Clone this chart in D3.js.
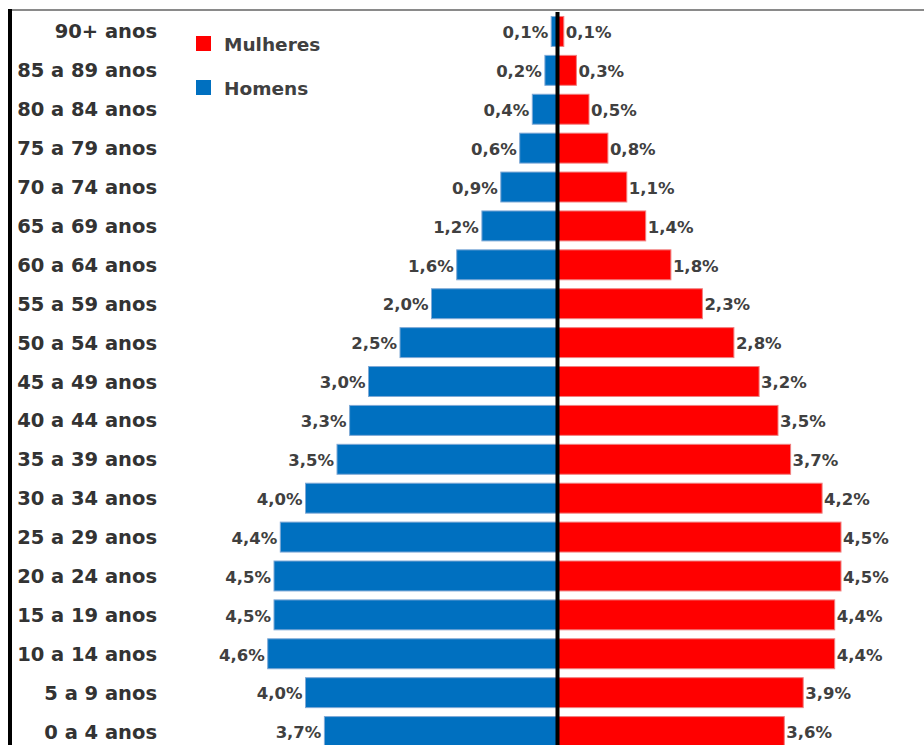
<!DOCTYPE html>
<html>
<head>
<meta charset="utf-8">
<script src="https://cdn.jsdelivr.net/npm/d3@7"></script>
<style>
  body { margin: 0; background: #fff; }
  svg { display: block; font-family: "DejaVu Sans", sans-serif; }
</style>
</head>
<body>
<svg class="pyramid" width="924" height="745"></svg>
<script>
// Faixas etárias, de cima para baixo
const categories = [
  '90+ anos', '85 a 89 anos', '80 a 84 anos', '75 a 79 anos', '70 a 74 anos',
  '65 a 69 anos', '60 a 64 anos', '55 a 59 anos', '50 a 54 anos', '45 a 49 anos',
  '40 a 44 anos', '35 a 39 anos', '30 a 34 anos', '25 a 29 anos', '20 a 24 anos',
  '15 a 19 anos', '10 a 14 anos', '5 a 9 anos', '0 a 4 anos'
];
const homens = [0.1, 0.2, 0.4, 0.6, 0.9, 1.2, 1.6, 2.0, 2.5, 3.0, 3.3, 3.5, 4.0, 4.4, 4.5, 4.5, 4.6, 4.0, 3.7];
const mulheres = [0.1, 0.3, 0.5, 0.8, 1.1, 1.4, 1.8, 2.3, 2.8, 3.2, 3.5, 3.7, 4.2, 4.5, 4.5, 4.4, 4.4, 3.9, 3.6];
const legendItems = ['Mulheres', 'Homens'];

const svg = d3.select('.pyramid');
const width = 924;
const height = 745;

const zeroX = 557.5;
const x = d3.scaleLinear().domain([-5, 5]).range([zeroX - 315, zeroX + 315]);
const y = d3.scaleBand()
  .domain(categories)
  .range([12, 751])
  .paddingInner(0.23)
  .paddingOuter(0.115);

const colors = { Mulheres: '#ff0000', Homens: '#0070c0' };
const fmt = v => d3.format('.1f')(v).replace('.', ',') + '%';

const rows = categories.map((c, i) => ({ cat: c, h: homens[i], m: mulheres[i] }));

// Frame (top and left edges of the cropped chart area)
svg.append('line')
  .attr('x1', 8).attr('x2', width).attr('y1', 10).attr('y2', 10)
  .attr('stroke', '#8a8a8a').attr('stroke-width', 2);
svg.append('line')
  .attr('x1', 10).attr('x2', 10).attr('y1', 9).attr('y2', height)
  .attr('stroke', '#000').attr('stroke-width', 4);

// Bars
const bars = svg.append('g');
bars.selectAll('rect.h')
  .data(rows)
  .join('rect')
  .attr('class', 'h')
  .attr('x', d => x(-d.h))
  .attr('y', d => y(d.cat))
  .attr('width', d => x(0) - x(-d.h))
  .attr('height', y.bandwidth())
  .attr('fill', colors.Homens)
  .attr('stroke', '#7fa9d6')
  .attr('stroke-width', 1);

bars.selectAll('rect.m')
  .data(rows)
  .join('rect')
  .attr('class', 'm')
  .attr('x', x(0))
  .attr('y', d => y(d.cat))
  .attr('width', d => x(d.m) - x(0))
  .attr('height', y.bandwidth())
  .attr('fill', colors.Mulheres)
  .attr('stroke', '#f08080')
  .attr('stroke-width', 1);

// Value labels
const labels = svg.append('g')
  .style('font-size', '16.5px')
  .style('font-weight', 'bold')
  .attr('fill', '#404040');

labels.selectAll('text.h')
  .data(rows)
  .join('text')
  .attr('class', 'h')
  .attr('x', d => x(-d.h) - 3)
  .attr('y', d => y(d.cat) + y.bandwidth() / 2 + 1)
  .attr('dy', '0.35em')
  .attr('text-anchor', 'end')
  .text(d => fmt(d.h));

labels.selectAll('text.m')
  .data(rows)
  .join('text')
  .attr('class', 'm')
  .attr('x', d => x(d.m) + 2)
  .attr('y', d => y(d.cat) + y.bandwidth() / 2 + 1)
  .attr('dy', '0.35em')
  .text(d => fmt(d.m));

// Central axis line
svg.append('line')
  .attr('x1', x(0)).attr('x2', x(0)).attr('y1', 12).attr('y2', height)
  .attr('stroke', '#000').attr('stroke-width', 4);

// Category axis
const yAxis = svg.append('g')
  .attr('transform', 'translate(157,0)')
  .call(d3.axisLeft(y).tickSize(0).tickPadding(0));
yAxis.select('.domain').remove();
yAxis.selectAll('text')
  .style('font-family', '"DejaVu Sans", sans-serif')
  .style('font-size', '19.5px')
  .style('font-weight', 'bold')
  .attr('fill', '#333')
  .attr('dy', '0.36em');

// Legend
const legend = svg.append('g')
  .selectAll('g')
  .data(legendItems)
  .join('g')
  .attr('transform', (d, i) => `translate(196,${36 + i * 44})`);
legend.append('rect')
  .attr('width', 15).attr('height', 15)
  .attr('fill', d => colors[d]);
legend.append('text')
  .attr('x', 28).attr('y', 8).attr('dy', '0.36em')
  .style('font-size', '18.5px')
  .style('font-weight', 'bold')
  .attr('fill', '#404040')
  .text(d => d);
</script>
</body>
</html>
